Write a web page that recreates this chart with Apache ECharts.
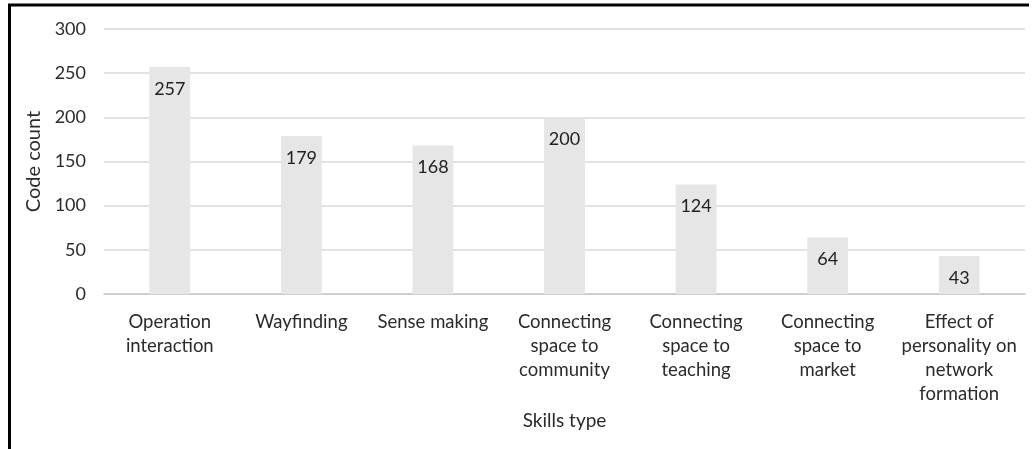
<!DOCTYPE html>
<html>
<head>
<meta charset="utf-8">
<script src="https://cdn.jsdelivr.net/npm/echarts@6/dist/echarts.min.js"></script>
<style>
html,body{margin:0;padding:0;background:#fff;}
#chart{width:1033px;height:449px;}
</style>
</head>
<body>
<div id="chart"></div>
<script>
const categories = [
  "Operation\ninteraction",
  "Wayfinding",
  "Sense making",
  "Connecting\nspace to\ncommunity",
  "Connecting\nspace to\nteaching",
  "Connecting\nspace to\nmarket",
  "Effect of\npersonality on\nnetwork\nformation"
];
const codeCounts = [257, 179, 168, 200, 124, 64, 43];
const yTicks = [0, 50, 100, 150, 200, 250, 300];

const FONT = 'Lato, "Open Sans", sans-serif';
const chart = echarts.init(document.getElementById('chart'));
chart.setOption({
  animation: false,
  backgroundColor: '#fff',
  grid: { left: 104, right: 8, top: 29, bottom: 155 },
  xAxis: {
    type: 'category',
    data: categories,
    name: 'Skills type',
    nameLocation: 'middle',
    nameGap: 112,
    nameTextStyle: { fontFamily: FONT, fontSize: 19, color: '#2b2b2b' },
    axisLine: { lineStyle: { color: '#c8c8c8', width: 1.5 } },
    axisTick: { show: false },
    axisLabel: {
      interval: 0, margin: 16, fontFamily: FONT, fontSize: 18.5,
      color: '#2b2b2b', lineHeight: 24
    }
  },
  yAxis: {
    type: 'value',
    min: yTicks[0], max: yTicks[yTicks.length - 1], interval: 50,
    name: 'Code count',
    nameLocation: 'middle',
    nameGap: 54,
    nameTextStyle: { fontFamily: FONT, fontSize: 20, color: '#2b2b2b' },
    axisLine: { show: false },
    axisTick: { show: false },
    axisLabel: { margin: 18, fontFamily: FONT, fontSize: 18, color: '#2b2b2b' },
    splitLine: { lineStyle: { color: '#d9d9d9', width: 1.5 } }
  },
  series: [{
    type: 'bar',
    data: codeCounts,
    barWidth: '31%',
    itemStyle: { color: '#e6e6e6' },
    label: {
      show: true, position: 'insideTop', distance: 13,
      fontFamily: FONT, fontSize: 18, color: '#222'
    }
  }],
  graphic: [
    { type: 'line', shape: { x1: 8, y1: 5, x2: 1029, y2: 5 }, style: { stroke: '#000', lineWidth: 3 } },
    { type: 'line', shape: { x1: 9.5, y1: 4, x2: 9.5, y2: 449 }, style: { stroke: '#000', lineWidth: 3 } }
  ]
});
</script>
</body>
</html>
